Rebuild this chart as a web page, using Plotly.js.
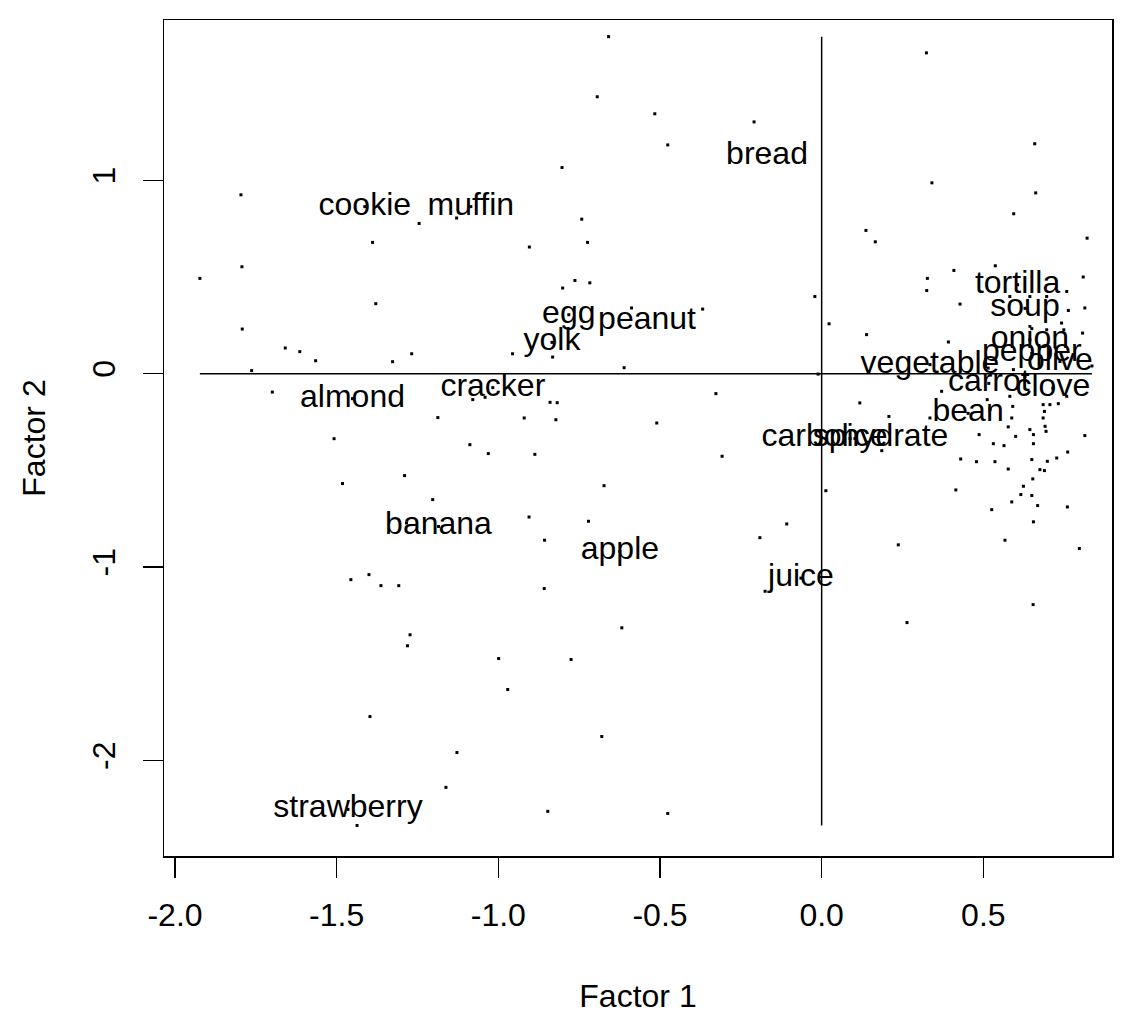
<!DOCTYPE html>
<html>
<head>
<meta charset="utf-8">
<script src="https://cdn.plot.ly/plotly-3.0.1.min.js"></script>
<style>html,body{margin:0;padding:0;background:#fff;}#chart{width:1132px;height:1016px;}</style>
</head>
<body>
<div id="chart"></div>
<script>
// Unlabelled loadings (Factor 1, Factor 2)
const dotF1 = [
 -1.796,-1.245,-1.129,-1.389,-1.793,-1.923,-0.659,-0.694,-0.516,-0.209,-0.476,-0.803,-0.742,-0.904,-0.724,-0.801,-0.763,-0.717,-0.021,
 0.324,0.659,0.341,0.662,0.594,0.137,0.166,0.821,0.409,0.537,0.327,0.809,0.758,0.325,0.582,0.644,0.696,
 -1.379,-1.792,-1.659,-1.614,-1.565,-1.327,-1.268,-1.763,-1.699,-1.079,-1.041,-1.187,-1.508,-1.088,-1.031,-1.290,-1.482,-1.203,-1.284,
 -0.588,-0.368,-0.956,-0.832,-0.611,-0.327,-0.840,-0.818,-0.920,-0.822,-0.510,-0.887,-0.308,-0.673,-0.905,-0.721,-0.108,-0.857,-0.191,-0.011,
 0.023,0.139,0.428,0.392,0.814,0.763,0.742,0.807,0.118,0.208,0.186,0.371,0.335,0.487,0.531,0.564,0.582,0.591,0.588,0.577,0.600,0.644,0.655,0.655,
 0.685,0.706,0.732,0.689,0.685,0.691,0.694,0.758,0.814,0.761,0.727,0.698,0.650,0.675,0.689,0.577,0.536,0.479,0.430,0.653,0.624,0.616,0.650,0.588,
 0.668,0.760,0.526,0.655,0.415,0.013,0.567,0.797,0.237,0.650,0.696,0.749,0.515,0.593,0.629,0.512,0.521,0.836,
 -1.456,-1.400,-1.363,-1.308,-1.273,-1.281,-1.397,-1.128,-1.162,-1.437,
 -0.858,-0.618,-0.999,-0.775,-0.971,-0.680,-0.847,-0.476,-0.175,
 0.654,0.264
];
const dotF2 = [
 0.925,0.777,0.805,0.679,0.553,0.493,1.743,1.432,1.344,1.302,1.183,1.066,0.799,0.655,0.679,0.443,0.482,0.470,0.399,
 1.659,1.189,0.987,0.935,0.827,0.741,0.682,0.701,0.534,0.558,0.493,0.500,0.425,0.430,0.399,0.399,0.399,
 0.362,0.231,0.133,0.114,0.067,0.062,0.103,0.016,-0.095,-0.134,-0.122,-0.227,-0.336,-0.367,-0.413,-0.527,-0.568,-0.651,-0.772,
 0.340,0.334,0.103,0.086,0.031,-0.103,-0.148,-0.150,-0.229,-0.238,-0.255,-0.417,-0.427,-0.579,-0.741,-0.763,-0.777,-0.861,-0.848,-0.002,
 0.258,0.202,0.360,0.164,0.340,0.327,0.262,0.210,-0.151,-0.221,-0.398,-0.091,-0.229,-0.315,-0.362,-0.372,-0.117,-0.169,-0.229,-0.275,-0.324,-0.289,-0.315,-0.362,
 -0.160,-0.160,-0.155,-0.195,-0.229,-0.272,-0.298,-0.117,-0.320,-0.405,-0.436,-0.453,-0.444,-0.496,-0.501,-0.493,-0.455,-0.455,-0.441,-0.544,-0.582,-0.625,-0.630,-0.663,
 -0.682,-0.689,-0.703,-0.766,-0.601,-0.605,-0.861,-0.904,-0.885,0.233,0.227,0.227,0.029,0.021,-0.014,-0.134,-0.186,0.040,
 -1.065,-1.039,-1.096,-1.096,-1.350,-1.407,-1.773,-1.959,-2.139,-2.336,
 -1.111,-1.314,-1.473,-1.478,-1.633,-1.876,-2.263,-2.274,-1.125,
 -1.194,-1.287
];
// Labelled words
const words = ["bread","cookie","muffin","tortilla","soup","egg","peanut","yolk","onion","pepper","olive",
 "vegetable","carrot","clove","almond","cracker","bean","carbohydrate","spice","banana","apple","juice","strawberry"];
const wordF1 = [-0.169,-1.413,-1.085,0.606,0.629,-0.782,-0.540,-0.834,0.644,0.650,0.737,
 0.335,0.517,0.715,-1.451,-1.017,0.453,0.103,0.088,-1.185,-0.624,-0.064,-1.465];
const wordF2 = [1.127,0.864,0.864,0.460,0.338,0.305,0.274,0.162,0.176,0.105,0.063,
 0.047,-0.050,-0.075,-0.129,-0.072,-0.205,-0.335,-0.335,-0.790,-0.919,-1.057,-2.253];
// Reference axes through the origin (span of the loadings)
const hLineF1 = [-1.923, 0.836];
const vLineF2 = [1.743, -2.336];
const xTicks = [-2, -1.5, -1, -0.5, 0, 0.5];
const xTickText = ["-2.0","-1.5","-1.0","-0.5","0.0","0.5"];
const yTicks = [-2, -1, 0, 1];
const yTickText = ["-2","-1","0","1"];

const FONT = "Liberation Sans, Arial, Helvetica, sans-serif";
const allF1 = dotF1.concat(wordF1), allF2 = dotF2.concat(wordF2);

const traces = [
 {x: hLineF1, y: [0,0], mode: "lines", line: {color: "black", width: 1.5}, hoverinfo: "skip"},
 {x: [0,0], y: vLineF2, mode: "lines", line: {color: "black", width: 1.5}, hoverinfo: "skip"},
 {x: allF1, y: allF2, mode: "markers", marker: {symbol: "square", size: 3, color: "black", line: {width: 0}}},
 {x: wordF1, y: wordF2, mode: "text", text: words, textposition: "middle center",
  textfont: {family: FONT, size: 32, color: "black"}}
];

const axisCommon = {
 showgrid: false, zeroline: false, showline: true, mirror: true, linecolor: "black", linewidth: 1.5,
 ticks: "outside", ticklen: 20, tickwidth: 1.5, tickcolor: "black",
 tickfont: {family: FONT, size: 32, color: "black"}, tickmode: "array"
};

const layout = {
 width: 1132, height: 1016, showlegend: false,
 paper_bgcolor: "white", plot_bgcolor: "white",
 margin: {l: 164, r: 20, t: 20, b: 160},
 font: {family: FONT, size: 32, color: "black"},
 xaxis: Object.assign({}, axisCommon, {
  range: [-2.034, 0.898], tickvals: xTicks, ticktext: xTickText, ticklabelstandoff: 10,
  title: {text: "Factor 1", font: {family: FONT, size: 32, color: "black"}, standoff: 52}
 }),
 yaxis: Object.assign({}, axisCommon, {
  range: [-2.494, 1.829], tickvals: yTicks, ticktext: yTickText, tickangle: -90, ticklabelstandoff: 15,
  title: {text: "Factor 2", font: {family: FONT, size: 32, color: "black"}, standoff: 30}
 })
};

Plotly.newPlot("chart", traces, layout, {staticPlot: true, displayModeBar: false});
</script>
</body>
</html>
